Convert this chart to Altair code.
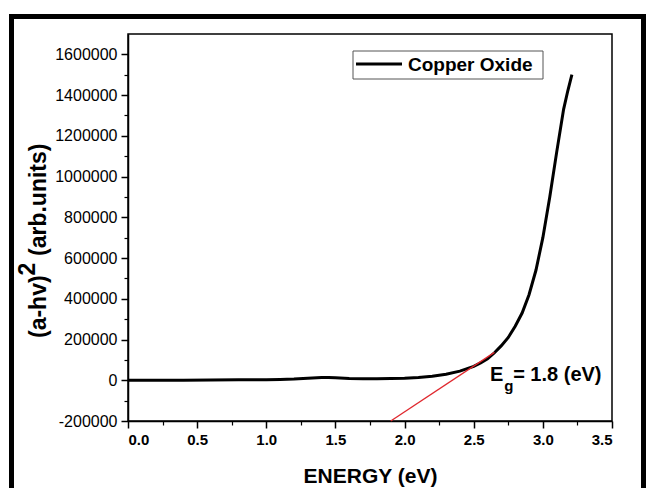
import altair as alt
import pandas as pd

# ---- data ----
energy = [0.0, 0.2, 0.4, 0.6, 0.8, 1.0, 1.1, 1.2, 1.3, 1.4, 1.45, 1.5, 1.6, 1.7, 1.8,
          1.9, 2.0, 2.1, 2.2, 2.3, 2.4, 2.5, 2.55, 2.6, 2.65, 2.7, 2.75, 2.8, 2.85,
          2.9, 2.95, 3.0, 3.05, 3.1, 3.15, 3.18, 3.21]
absorb = [0, 0, 500, 1000, 2000, 3000, 4000, 6000, 10000, 13000, 14000, 12000, 9000, 8000, 8000,
          9000, 10000, 14000, 20000, 30000, 45000, 68000, 85000, 105000, 135000, 170000, 210000,
          265000, 330000, 420000, 540000, 700000, 900000, 1120000, 1330000, 1420000, 1500000]
series_name = "Copper Oxide"

fit_energy = [1.90, 2.65]
fit_value = [-200000, 137000]

x_ticks = [0.0, 0.5, 1.0, 1.5, 2.0, 2.5, 3.0, 3.5]
x_minor = [0.25, 0.75, 1.25, 1.75, 2.25, 2.75, 3.25]
y_ticks = [-200000, 0, 200000, 400000, 600000, 800000, 1000000, 1200000, 1400000, 1600000]
y_minor = [-100000, 100000, 300000, 500000, 700000, 900000, 1100000, 1300000, 1500000]

FONT = "Liberation Sans"
W, H = 484, 387

df = pd.DataFrame({"E": energy, "A": absorb, "series": [series_name] * len(energy)})
fit_df = pd.DataFrame({"E": fit_energy, "A": fit_value})
one = pd.DataFrame({"k": [0]})

xs = alt.Scale(domain=[0, 3.5], nice=False, zero=False)
ys = alt.Scale(domain=[-200000, 1700000], nice=False, zero=False)

x_axis = alt.Axis(values=x_ticks, format=".1f", title="ENERGY (eV)", grid=False,
                  labelFont=FONT, labelFontSize=15, labelFontWeight="bold", labelColor="black",
                  labelPadding=4, tickSize=7, tickWidth=1.5, tickColor="black",
                  domainColor="black", domainWidth=1.5,
                  titleFont=FONT, titleFontSize=21, titleFontWeight="bold", titleColor="black",
                  titleY=55, titleBaseline="middle", orient="bottom")
y_axis = alt.Axis(values=y_ticks, labelExpr="toString(datum.value)", title=None, grid=False,
                  labelFont=FONT, labelFontSize=16, labelColor="black", labelPadding=4,
                  tickSize=7, tickWidth=1.5, tickColor="black",
                  domainColor="black", domainWidth=1.5, orient="left")

curve = alt.Chart(df).mark_line(strokeWidth=3, color="black").encode(
    x=alt.X("E:Q", scale=xs, axis=x_axis),
    y=alt.Y("A:Q", scale=ys, axis=y_axis),
    detail="series:N",
)

minor = alt.Chart(df).mark_point(opacity=0).encode(
    x=alt.X("E:Q", scale=xs,
            axis=alt.Axis(values=x_minor, labels=False, domain=False, grid=False,
                          tickSize=4, tickWidth=1.2, tickColor="black", title=None,
                          orient="bottom")),
    y=alt.Y("A:Q", scale=ys,
            axis=alt.Axis(values=y_minor, labels=False, domain=False, grid=False,
                          tickSize=4, tickWidth=1.2, tickColor="black", title=None,
                          orient="left")),
)

fit = alt.Chart(fit_df).mark_line(color="#e0282e", strokeWidth=1.3).encode(
    x=alt.X("E:Q", scale=xs, axis=None), y=alt.Y("A:Q", scale=ys, axis=None))


def ann(text, e, a, size):
    return alt.Chart(pd.DataFrame({"E": [e], "A": [a]})).mark_text(
        text=text, font=FONT, fontSize=size, fontWeight="bold", align="left",
        baseline="alphabetic", color="black").encode(
        x=alt.X("E:Q", scale=xs, axis=None), y=alt.Y("A:Q", scale=ys, axis=None))


ann_E = ann("E", 2.618, -5000, 20)
ann_g = ann("g", 2.72, -55000, 15)
ann_rest = ann("= 1.8 (eV)", 2.785, -5000, 20)

# legend box (manual, matching the reference's framed key)
leg_box = alt.Chart(one).mark_rect(filled=False, stroke="#555555", strokeWidth=1).encode(
    x=alt.value(225), x2=alt.value(415), y=alt.value(17), y2=alt.value(45))
leg_line = alt.Chart(one).mark_rule(color="black", strokeWidth=3).encode(
    x=alt.value(228), x2=alt.value(274), y=alt.value(30))
leg_text = alt.Chart(one).mark_text(
    text=series_name, font=FONT, fontSize=19, fontWeight="bold", align="left",
    baseline="middle", color="black").encode(x=alt.value(280), y=alt.value(31))


# y-axis title with raised "2"
def ytitle(text, ypos, xpos, size):
    return alt.Chart(one).mark_text(
        text=text, font=FONT, fontSize=size, fontWeight="bold", angle=270, align="left",
        baseline="alphabetic", color="black").encode(x=alt.value(xpos), y=alt.value(ypos))


yt1 = ytitle("(a-hv)", 304, -82, 23)
yt2 = ytitle("2", 241.4, -93, 23)
yt3 = ytitle("(arb.units)", 222, -82, 23)

border = alt.Chart(one).mark_rect(
    filled=False, stroke="black", strokeWidth=5).encode(
    x=alt.value(-116.5), x2=alt.value(515.5), y=alt.value(-17.5), y2=alt.value(480))

chart = alt.layer(curve, minor, fit, ann_E, ann_g, ann_rest, leg_box, leg_line, leg_text,
                  yt1, yt2, yt3, border).resolve_axis(
    x="independent", y="independent").properties(
    width=W, height=H,
    autosize=alt.AutoSizeParams(type="none"),
    padding={"left": 128, "top": 34, "right": 34, "bottom": 67},
    background="white",
).configure_view(stroke="black", strokeWidth=1.5)

chart.save("out.html", embed_options={"renderer": "svg", "actions": False})
